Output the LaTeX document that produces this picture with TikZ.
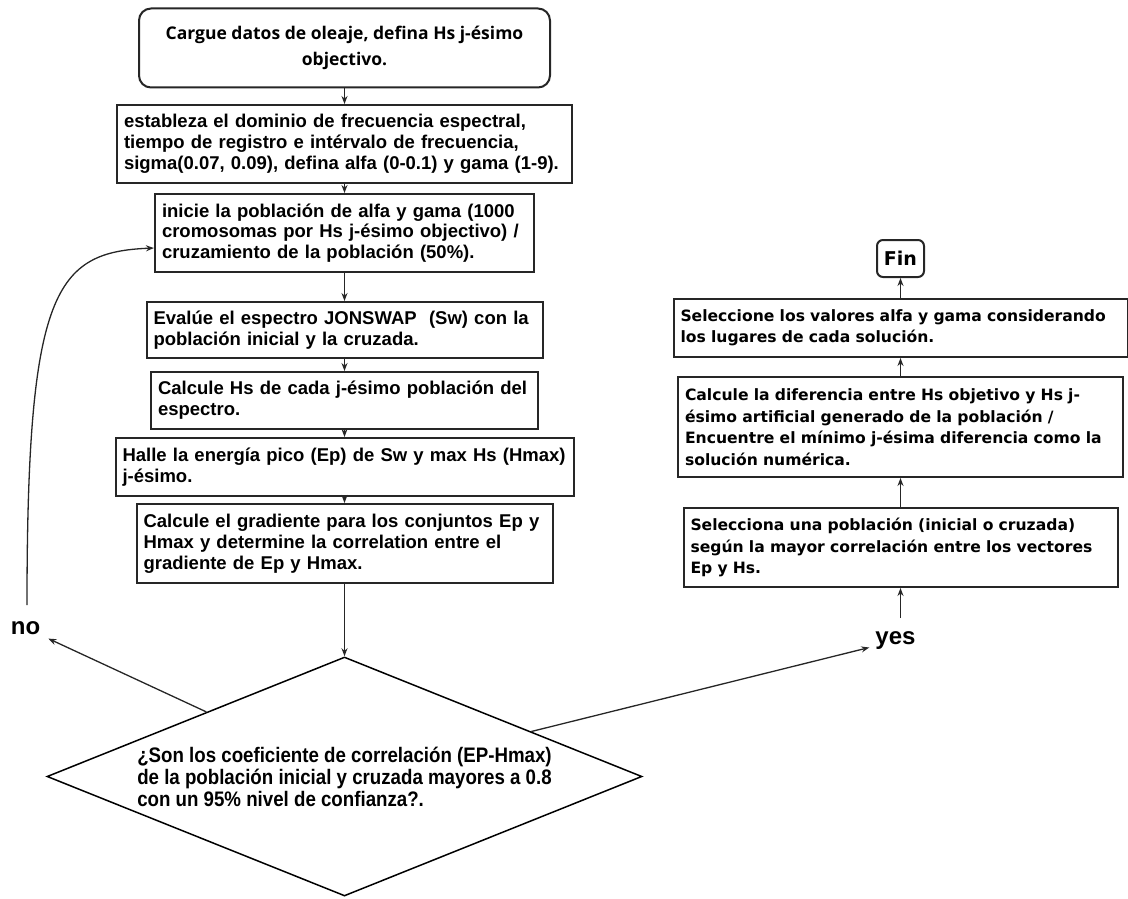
\documentclass[tikz,border=0pt]{standalone}
\usepackage{fontspec}
\setmainfont{Liberation Sans}
\newfontfamily\headfont{Open Sans}
\newfontfamily\stepfont{DejaVu Sans}
\newfontfamily\narrowfont[FakeStretch=0.89]{Liberation Sans}
\usetikzlibrary{arrows.meta, shapes.geometric, calc}

\begin{document}
\begin{tikzpicture}[x=1pt, y=-1pt,
  box/.style={draw=black!85, line width=2pt, inner ysep=0pt, minimum height=#1},
  lbox/.style={box=#1, inner xsep=7pt, align=left, font=\fontsize{18.5}{20.8}\selectfont\bfseries},
  rbox/.style={box=#1, inner xsep=7pt, align=left, font=\stepfont\fontsize{15.6}{21.5}\selectfont\bfseries},
  arr/.style={-{Stealth[length=8pt,width=6pt]}, line width=1.3pt, draw=black!85},
  lbl/.style={font=\fontsize{24}{24}\selectfont\bfseries, inner sep=6pt},
]
  \useasboundingbox (0,0) rectangle (1128,899);

  % left column
  \node[box=79pt, rounded corners=12pt, minimum width=411pt, align=center,
        font=\headfont\fontsize{17.5}{26}\selectfont\bfseries] (b1) at (344.5,48)
        {Cargue datos de oleaje, defina Hs j-ésimo\\objectivo.};
  \node[lbox=78pt, text width=441pt] (b2) at (344.5,144)
        {estableza el dominio de frecuencia espectral,\\tiempo de registro e intérvalo de frecuencia,\\sigma(0.07, 0.09), defina alfa (0-0.1) y gama (1-9).};
  \node[lbox=78pt, text width=365pt] (b3) at (344.5,233)
        {inicie la población de alfa y gama (1000\\cromosomas por Hs j-ésimo objectivo) /\\cruzamiento de la población (50\%).};
  \node[lbox=56pt, text width=382pt] (b4) at (344.5,330)
        {Evalúe el espectro JONSWAP~~(Sw) con la\\población inicial y la cruzada.};
  \node[lbox=57pt, text width=373pt] (b5) at (344.5,400.5)
        {Calcule Hs de cada j-ésimo población del\\espectro.};
  \node[lbox=58pt, text width=444pt] (b6) at (344.5,467)
        {Halle la energía pico (Ep) de Sw y max Hs (Hmax)\\j-ésimo.};
  \node[lbox=79pt, text width=402pt] (b7) at (344.5,543.5)
        {Calcule el gradiente para los conjuntos Ep y\\Hmax y determine la correlation entre el\\gradiente de Ep y Hmax.};

  % decision
  \node[draw, line width=1.5pt, shape=diamond, aspect=2.49, inner sep=0pt,
        minimum width=595pt, minimum height=239pt, align=left,
        font=\narrowfont\fontsize{21}{22}\selectfont\bfseries] (dec) at (344.5,776.5)
        {¿Son los coeficiente de correlación (EP-Hmax)\\de la población inicial y cruzada mayores a 0.8\\con un 95\% nivel de confianza?.};

  \node[lbl, inner sep=8pt] (lblno) at (25.5,628) {no};
  \node[lbl] (lblyes) at (895.5,641) {yes};

  % right column
  \node[box=37pt, rounded corners=6pt, minimum width=47pt,
        font=\stepfont\fontsize{19}{19}\selectfont\bfseries] (fin) at (900.5,258.5) {Fin};
  \node[rbox=58pt, text width=440pt] (r1) at (900.5,328)
        {Seleccione los valores alfa y gama considerando\\los lugares de cada solución.};
  \node[rbox=100pt, text width=431pt] (r2) at (900.5,427)
        {Calcule la diferencia entre Hs objetivo y Hs j-\\ésimo artificial generado de la población /\\Encuentre el mínimo j-ésima diferencia como la\\solución numérica.};
  \node[rbox=79pt, text width=420pt] (r3) at (900.5,547.5)
        {Selecciona una población (inicial o cruzada)\\según la mayor correlación entre los vectores\\Ep y Hs.};

  \coordinate (loopstart) at (27,605);
  \coordinate (yesup) at (900.5,618);

  \draw[arr] (b1) -- (b2);
  \draw[arr] (b2) -- (b3);
  \draw[arr] (b3) -- (b4);
  \draw[arr] (b4) -- (b5);
  \draw[arr] (b5) -- (b6);
  \draw[arr] (b6) -- (b7);
  \draw[arr] (b7) -- (dec);

  \draw[arr] ($(dec.west)!0.537!(dec.north)$) -- (lblno);
  \draw[arr] ($(dec.north)!0.626!(dec.east)$) -- (lblyes);
  \draw[arr] (loopstart) .. controls (27,290) and (55,252) .. ($(b3.west)+(0,15)$);

  \draw[arr] (yesup) -- (r3);
  \draw[arr] (r3) -- (r2);
  \draw[arr] (r2) -- (r1);
  \draw[arr] (r1) -- (fin);
\end{tikzpicture}
\end{document}
